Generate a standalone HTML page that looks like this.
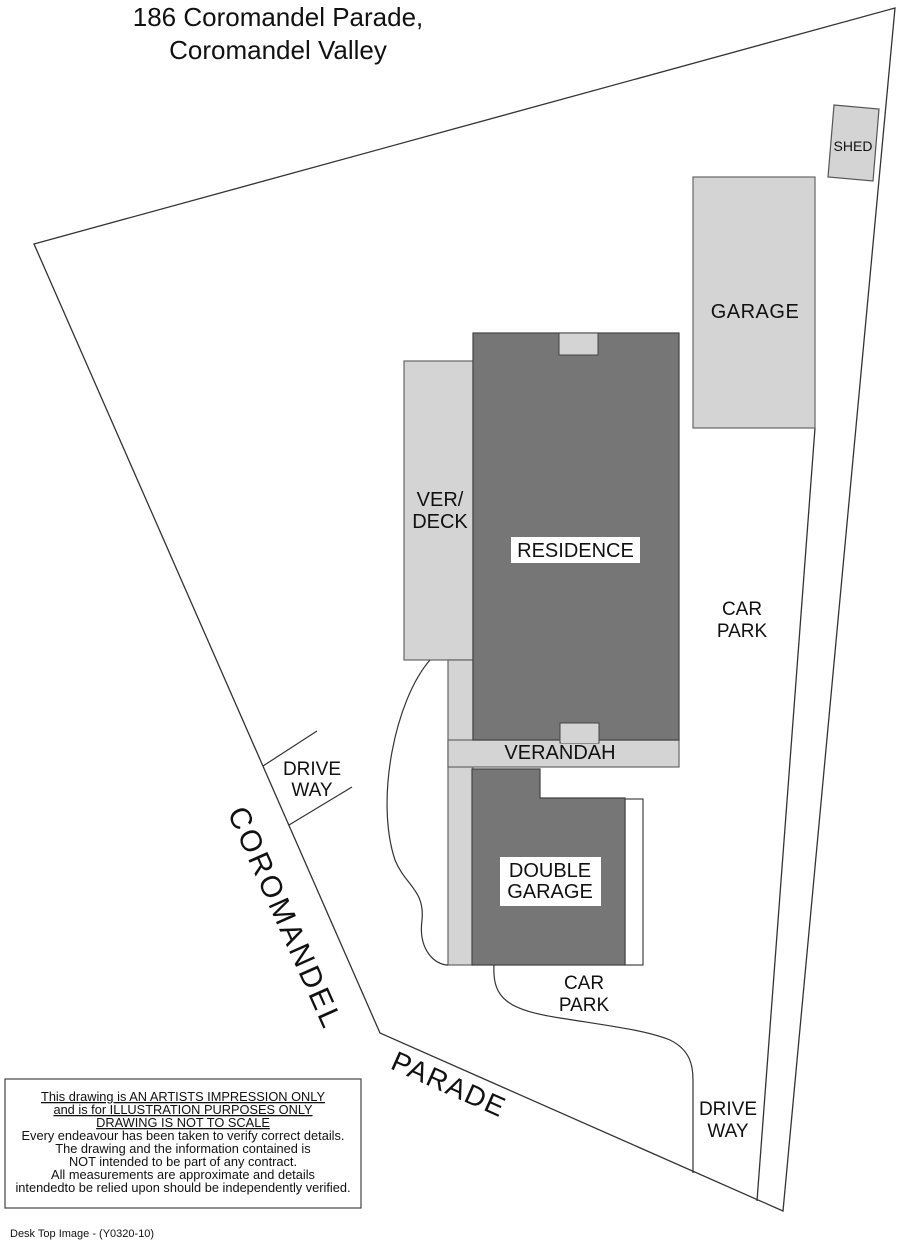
<!DOCTYPE html>
<html><head><meta charset="utf-8"><style>
html,body{margin:0;padding:0;background:#fff;}
svg{display:block;}
text{font-family:"Liberation Sans",sans-serif;fill:#111;}
</style></head><body>
<svg width="900" height="1242" viewBox="0 0 900 1242" xmlns="http://www.w3.org/2000/svg">
<rect width="900" height="1242" fill="#fff"/>
<text x="278" y="26" font-size="26" text-anchor="middle">186 Coromandel Parade,</text>
<text x="278" y="59" font-size="26" text-anchor="middle">Coromandel Valley</text>
<!-- boundary -->
<polygon points="34,244 895,8 783,1211 380,1033" fill="none" stroke="#333" stroke-width="1.3"/>
<line x1="815" y1="428" x2="757" y2="1201" stroke="#333" stroke-width="1.3"/>
<!-- shed -->
<polygon points="834,105 879,109 873,181 828,177" fill="#d4d4d4" stroke="#555" stroke-width="1.2"/>
<text x="853" y="151" font-size="14" text-anchor="middle">SHED</text>
<!-- garage -->
<rect x="693" y="177" width="122" height="251" fill="#d4d4d4" stroke="#666" stroke-width="1.2"/>
<text x="755" y="318" font-size="20" text-anchor="middle" letter-spacing="0.5">GARAGE</text>
<!-- ver/deck -->
<rect x="404" y="361" width="69" height="299" fill="#d4d4d4" stroke="#666" stroke-width="1.2"/>
<text x="440" y="506" font-size="20" text-anchor="middle">VER/</text>
<text x="440" y="528" font-size="20" text-anchor="middle">DECK</text>
<!-- side strip and verandah -->
<rect x="448" y="660" width="25" height="305" fill="#d4d4d4" stroke="#666" stroke-width="1.2"/>
<rect x="448" y="740" width="231" height="27" fill="#d4d4d4" stroke="#666" stroke-width="1.2"/>
<!-- residence -->
<rect x="473" y="333" width="206" height="407" fill="#767676" stroke="#444" stroke-width="1.2"/>
<rect x="559" y="333" width="39" height="22" fill="#d4d4d4" stroke="#444" stroke-width="1"/>
<rect x="560" y="723" width="39" height="20" fill="#d4d4d4" stroke="#444" stroke-width="1"/>
<rect x="561" y="739" width="37" height="4" fill="#d4d4d4"/>
<rect x="511" y="537" width="129" height="26" fill="#fff"/>
<text x="575.5" y="557" font-size="20" text-anchor="middle">RESIDENCE</text>
<text x="560" y="759" font-size="20" text-anchor="middle">VERANDAH</text>
<!-- double garage -->
<rect x="625" y="799" width="18" height="166" fill="#fff" stroke="#444" stroke-width="1.2"/>
<polygon points="472,769 540,769 540,798 625,798 625,965 472,965" fill="#767676" stroke="#444" stroke-width="1.2"/>
<rect x="500" y="857" width="101" height="49" fill="#fff"/>
<text x="550" y="877" font-size="20" text-anchor="middle">DOUBLE</text>
<text x="550" y="898" font-size="20" text-anchor="middle">GARAGE</text>
<!-- curves -->
<path d="M430,660 C395,700 375,800 395,860 C405,885 425,890 422,920 C418,950 435,965 448,965" fill="none" stroke="#333" stroke-width="1.2"/>
<path d="M494,965 C492,1000 510,1010 560,1018 C610,1026 645,1030 670,1040 C690,1050 693,1065 693,1080 L693,1173" fill="none" stroke="#333" stroke-width="1.2"/>
<!-- driveway lines -->
<line x1="263" y1="766" x2="317" y2="731" stroke="#333" stroke-width="1.2"/>
<line x1="289" y1="825" x2="352" y2="787" stroke="#333" stroke-width="1.2"/>
<text x="312" y="775" font-size="19" text-anchor="middle">DRIVE</text>
<text x="312" y="796" font-size="19" text-anchor="middle">WAY</text>
<text x="742" y="615" font-size="19" text-anchor="middle">CAR</text>
<text x="742" y="637" font-size="19" text-anchor="middle">PARK</text>
<text x="584" y="989" font-size="19" text-anchor="middle">CAR</text>
<text x="584" y="1011" font-size="19" text-anchor="middle">PARK</text>
<text x="728" y="1115" font-size="19" text-anchor="middle">DRIVE</text>
<text x="728" y="1137" font-size="19" text-anchor="middle">WAY</text>
<!-- road names -->
<text x="0" y="0" font-size="30" text-anchor="middle" letter-spacing="2.5" transform="translate(276,922) rotate(66)">COROMANDEL</text>
<text x="0" y="0" font-size="28" text-anchor="middle" letter-spacing="1.5" transform="translate(445,1093) rotate(24)">PARADE</text>
<!-- disclaimer -->
<rect x="5" y="1079" width="356" height="129" fill="#fff" stroke="#444" stroke-width="1.2"/>
<g font-size="12.8" text-anchor="middle">
<text x="183" y="1101" text-decoration="underline">This drawing is AN ARTISTS IMPRESSION ONLY</text>
<text x="183" y="1114" text-decoration="underline">and is for ILLUSTRATION PURPOSES ONLY</text>
<text x="183" y="1127" text-decoration="underline">DRAWING IS NOT TO SCALE</text>
<text x="183" y="1140">Every endeavour has been taken to verify correct details.</text>
<text x="183" y="1153">The drawing and the information contained is</text>
<text x="183" y="1166">NOT intended to be part of any contract.</text>
<text x="183" y="1179">All measurements are approximate and details</text>
<text x="183" y="1192">intendedto be relied upon should be independently verified.</text>
</g>
<text x="10" y="1237" font-size="11">Desk Top Image - (Y0320-10)</text>
</svg>
</body></html>
